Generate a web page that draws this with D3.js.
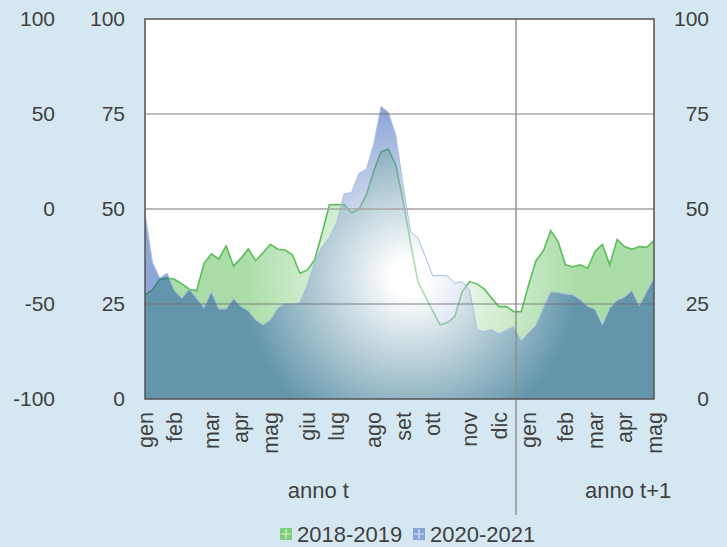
<!DOCTYPE html>
<html lang="it">
<head>
    <meta charset="UTF-8">
    <title>Andamento settimanale anno t / anno t+1</title>
    <style>
        body {
            margin: 0;
            background: #d5e8f1;
            font-family: 'Liberation Sans', Arial, sans-serif;
        }
        text {
            fill: #404040;
        }
        .tick text {
            font-size: 21px;
            font-family: 'Liberation Sans', Arial, sans-serif;
        }
        .month-label {
            font-size: 21.5px;
        }
        .year-label, .legend text {
            font-size: 22px;
        }
    </style>
    <script src="https://d3js.org/d3.v7.min.js"></script>
</head>
<body>
    <svg id="chart" width="727" height="547"></svg>
    <script>
        // weekly values, week 0 = first week of january of year t
        const series2018 = [27.4, 28.7, 31.5, 31.8, 31.5, 30.3, 28.9, 28.5, 35.7, 38.2,
                            36.8, 40.3, 35.0, 37.0, 39.5, 36.4, 38.5, 40.7, 39.4, 39.2,
                            37.9, 33.1, 33.9, 36.6, 43.6, 51.1, 51.2, 51.1, 49.0, 49.9,
                            53.7, 60.0, 65.1, 65.7, 61.6, 52.0, 41.0, 30.8, 27.0, 23.2,
                            19.5, 20.1, 21.7, 28.2, 30.9, 30.3, 28.9, 26.5, 24.3, 24.3,
                            23.0, 23.0, 30.0, 36.4, 39.0, 44.3, 41.4, 35.3, 34.8, 35.3,
                            34.4, 38.8, 40.7, 35.3, 42.0, 40.1, 39.4, 40.1, 39.9, 41.7];
        const series2020 = [49.0, 36.0, 31.8, 33.1, 28.5, 26.5, 28.9, 26.5, 24.0, 28.2,
                            23.7, 23.7, 26.4, 24.3, 23.2, 20.8, 19.5, 20.8, 23.9, 25.1,
                            25.0, 25.4, 30.0, 36.0, 40.0, 42.5, 46.5, 54.0, 54.3, 59.4,
                            60.4, 67.0, 77.0, 75.4, 69.4, 56.0, 44.0, 42.4, 37.5, 32.4,
                            32.5, 32.4, 30.5, 30.9, 28.6, 18.2, 17.7, 18.3, 17.1, 18.2,
                            19.0, 15.3, 17.5, 19.4, 24.0, 28.2, 28.0, 27.6, 27.4, 26.1,
                            24.4, 23.6, 19.5, 23.9, 26.0, 26.8, 28.5, 24.5, 28.2, 31.8];
        const seriesNames = ["2018-2019", "2020-2021"];

        const monthLabels = ["gen", "feb", "mar", "apr", "mag", "giu", "lug", "ago", "set",
                             "ott", "nov", "dic", "gen", "feb", "mar", "apr", "mag"];
        const monthWeeks = [0, 4, 9, 13, 17, 22, 26, 31, 35, 39, 44, 48, 52, 57, 61, 65, 69];

        const innerTicks = [0, 25, 50, 75, 100];
        const outerTicks = [-100, -50, 0, 50, 100];

        const yearLabels = ["anno t", "anno t+1"];
        const yearLabelWeeks = [23.5, 65.5];
        const yearBreak = 50.3;

        let margin = {top: 19, right: 73, bottom: 148, left: 145},
            width = 727 - margin.left - margin.right,
            height = 547 - margin.top - margin.bottom;

        let svg = d3.select("#chart")
            .append("g")
            .attr("transform", "translate(" + margin.left + "," + margin.top + ")");

        let x = d3.scaleLinear().domain([0, series2018.length - 1]).range([0, width]);
        let y = d3.scaleLinear().domain([0, 100]).range([height, 0]);
        let yOuter = d3.scaleLinear().domain([-100, 100]).range([height, 0]);

        // radial light in the middle of the plot, like the original spreadsheet fill
        let defs = svg.append("defs");
        function radial(id, color) {
            let g = defs.append("radialGradient")
                .attr("id", id)
                .attr("gradientUnits", "userSpaceOnUse")
                .attr("cx", width * 0.52)
                .attr("cy", height * 0.68)
                .attr("r", width * 0.6);
            g.append("stop").attr("offset", "0").attr("stop-color", "#ffffff");
            g.append("stop").attr("offset", "0.06").attr("stop-color", "#ffffff");
            g.append("stop").attr("offset", "0.55").attr("stop-color", color);
            g.append("stop").attr("offset", "1").attr("stop-color", color);
        }
        radial("gradGreen", "#55bb4f");
        radial("gradBlue", "#1d4fae");

        svg.append("rect")
            .attr("width", width)
            .attr("height", height)
            .attr("fill", "#ffffff");

        let area = d3.area()
            .x((d, i) => x(i))
            .y0(height)
            .y1(d => y(d));
        let line = d3.line()
            .x((d, i) => x(i))
            .y(d => y(d));

        svg.append("path")
            .datum(series2018)
            .attr("d", area)
            .attr("fill", "url(#gradGreen)")
            .attr("fill-opacity", 0.5);
        svg.append("path")
            .datum(series2018)
            .attr("d", line)
            .attr("fill", "none")
            .attr("stroke", "#5cbd5a")
            .attr("stroke-width", 1.6);

        svg.append("path")
            .datum(series2020)
            .attr("d", area)
            .attr("fill", "url(#gradBlue)")
            .attr("fill-opacity", 0.5);
        svg.append("path")
            .datum(series2020)
            .attr("d", line)
            .attr("fill", "none")
            .attr("stroke", "#a9bde6")
            .attr("stroke-width", 1);

        // horizontal gridlines
        svg.selectAll(".grid")
            .data(innerTicks.filter(d => d > 0 && d < 100))
            .enter()
            .append("line")
            .attr("class", "grid")
            .attr("x1", 0)
            .attr("x2", width)
            .attr("y1", d => y(d))
            .attr("y2", d => y(d))
            .attr("stroke", d => d === 50 ? "#a8a8a8" : "#6e6e6e")
            .attr("stroke-opacity", d => d === 50 ? 0.8 : 0.85)
            .attr("stroke-width", d => d === 50 ? 2 : 1.1);

        // separation between year t and year t+1
        svg.append("line")
            .attr("x1", x(yearBreak))
            .attr("x2", x(yearBreak))
            .attr("y1", 0)
            .attr("y2", height + 116)
            .attr("stroke", "#8c8c8c")
            .attr("stroke-width", 1.4);

        svg.append("rect")
            .attr("width", width)
            .attr("height", height)
            .attr("fill", "none")
            .attr("stroke", "#5a5a5a")
            .attr("stroke-width", 1.6);

        // axes
        let innerAxis = svg.append("g")
            .call(d3.axisLeft(y).tickValues(innerTicks).tickSize(0).tickPadding(20));
        let outerAxis = svg.append("g")
            .attr("transform", "translate(-90,0)")
            .call(d3.axisLeft(yOuter).tickValues(outerTicks).tickSize(0).tickPadding(0)
                .tickFormat(d => String(d)));
        let rightAxis = svg.append("g")
            .attr("transform", "translate(" + width + ",0)")
            .call(d3.axisRight(y).tickValues(innerTicks).tickSize(0));
        rightAxis.selectAll("text")
            .attr("x", 55)
            .attr("text-anchor", "end");
        [innerAxis, outerAxis, rightAxis].forEach(a => {
            a.select(".domain").remove();
            a.selectAll("text").attr("fill", "#404040");
        });

        svg.selectAll(".month-label")
            .data(monthLabels)
            .enter()
            .append("text")
            .attr("class", "month-label")
            .attr("transform", (d, i) => "translate(" + x(monthWeeks[i]) + "," + (height + 13) + ")rotate(-90)")
            .attr("dy", "0.35em")
            .attr("text-anchor", "end")
            .text(d => d);

        svg.selectAll(".year-label")
            .data(yearLabels)
            .enter()
            .append("text")
            .attr("class", "year-label")
            .attr("x", (d, i) => x(yearLabelWeeks[i]))
            .attr("y", height + 99)
            .attr("text-anchor", "middle")
            .text(d => d);

        // legend
        let legendColors = ["#7ccf78", "#86a5dc"];
        let legend = svg.selectAll(".legend")
            .data(seriesNames)
            .enter()
            .append("g")
            .attr("class", "legend")
            .attr("transform", (d, i) => "translate(" + (135 + i * 133) + "," + (height + 129) + ")");
        legend.append("rect")
            .attr("width", 12)
            .attr("height", 12)
            .attr("fill", (d, i) => legendColors[i]);
        legend.append("path")
            .attr("d", "M6,1V11M1,6H11")
            .attr("stroke", "#ffffff")
            .attr("stroke-opacity", 0.7)
            .attr("stroke-width", 1.2);
        legend.append("text")
            .attr("x", 17)
            .attr("y", 6)
            .attr("dy", "0.36em")
            .text(d => d);
    </script>
</body>
</html>
